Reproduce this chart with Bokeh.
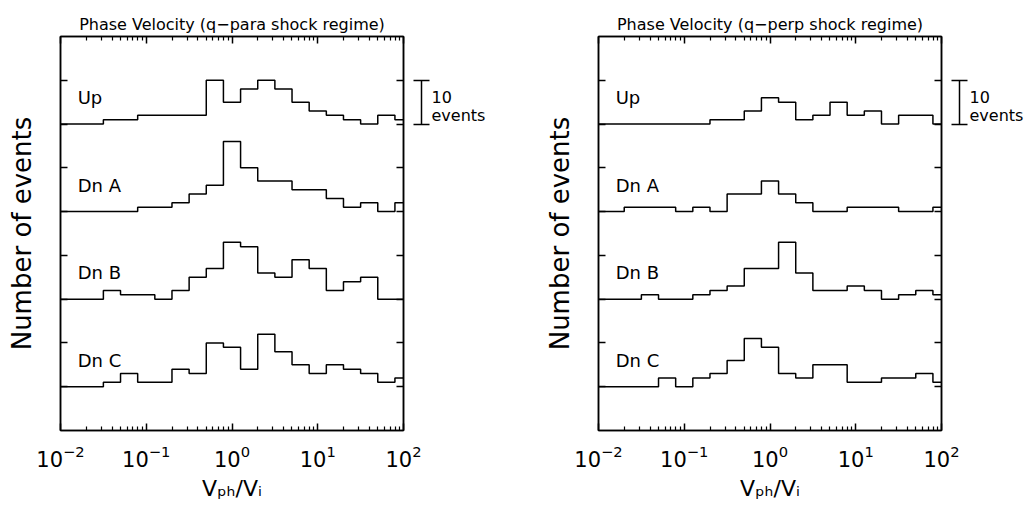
from bokeh.plotting import figure
from bokeh.layouts import row
from bokeh.models import Range1d, LogAxis, LinearAxis, FixedTicker, Label
from bokeh.embed import file_html
from bokeh.resources import INLINE

FONT = "DejaVu Sans"

# histogram bin centres, log10(V_ph/V_i), 0.2 decade wide
log_centres = [-2.0, -1.8, -1.6, -1.4, -1.2, -1.0, -0.8, -0.6, -0.4, -0.2, 0.0,
               0.2, 0.4, 0.6, 0.8, 1.0, 1.2, 1.4, 1.6, 1.8, 2.0]

row_names = ["Up", "Dn A", "Dn B", "Dn C"]
row_offsets = [70, 50, 30, 10]   # vertical stacking of each histogram (events)

# quasi-parallel shock regime: event counts per bin
para_up  = [0, 0, 0, 1, 1, 2, 2, 2, 2, 10, 5, 8, 10, 8, 5, 3, 2, 1, 0, 2, 1]
para_dna = [0, 0, 0, 0, 0, 1, 1, 2, 4, 6, 16, 10, 7, 7, 5, 5, 3, 1, 2, 0, 2]
para_dnb = [0, 0, 0, 2, 1, 1, 0, 2, 5, 7, 13, 12, 6, 5, 9, 7, 2, 4, 5, 0, 0]
para_dnc = [0, 0, 0, 1, 3, 1, 1, 4, 3, 10, 9, 4, 12, 8, 5, 3, 5, 4, 3, 1, 2]

# quasi-perpendicular shock regime: event counts per bin
perp_up  = [0, 0, 0, 0, 0, 0, 0, 1, 1, 3, 6, 5, 1, 2, 5, 2, 3, 0, 2, 2, 0]
perp_dna = [0, 0, 1, 1, 1, 0, 1, 0, 4, 4, 7, 4, 2, 0, 0, 1, 1, 1, 0, 0, 1]
perp_dnb = [0, 0, 0, 1, 0, 0, 1, 2, 3, 7, 7, 13, 6, 2, 2, 3, 2, 0, 1, 2, 1]
perp_dnc = [0, 0, 0, 0, 2, 0, 2, 3, 6, 11, 9, 3, 2, 5, 5, 1, 1, 2, 2, 3, 1]

decades = [0.01, 0.1, 1, 10, 100]
y_ticks = [10, 20, 30, 40, 50, 60, 70, 80]
scale_bar = (70, 80)                       # "10 events" reference bar
scale_text = {76: "10", 72: "events"}      # its two-line caption

minor_x = [m * d for d in decades[:-1] for m in range(2, 10)]


def style_ticks(axis):
    axis.major_tick_in = 7
    axis.major_tick_out = 0
    axis.minor_tick_in = 4
    axis.minor_tick_out = 0
    axis.major_tick_line_color = "black"
    axis.minor_tick_line_color = "black"
    axis.major_tick_line_width = 1.5
    axis.minor_tick_line_width = 1.2
    axis.axis_line_color = "black"
    axis.axis_line_width = 1.5


def hide_labels(axis, standoff=0):
    axis.major_label_text_font_size = "1px"
    axis.major_label_text_alpha = 0
    axis.major_label_standoff = standoff


def make_panel(title, series, border_left, border_right):
    p = figure(x_axis_type="log", x_range=Range1d(1e-2, 1e2), y_range=Range1d(0, 90),
               frame_width=343, frame_height=394,
               min_border_left=border_left, min_border_right=border_right,
               min_border_top=36, min_border_bottom=82,
               output_backend="svg", toolbar_location=None, title=title)
    p.title.align = "center"
    p.title.text_font = FONT
    p.title.text_font_size = "16px"
    p.title.text_font_style = "normal"
    p.title.text_color = "black"
    p.title.standoff = 6
    p.xgrid.visible = False
    p.ygrid.visible = False
    p.outline_line_color = "black"
    p.outline_line_width = 1.5
    p.outline_line_alpha = 1.0
    p.background_fill_color = "white"
    p.border_fill_color = "white"

    # bottom axis: decades with labels, V_ph/V_i title
    x_ticker = FixedTicker(ticks=decades, minor_ticks=minor_x)
    xa = p.xaxis[0]
    xa.ticker = x_ticker
    style_ticks(xa)
    xa.major_label_text_font = FONT
    xa.major_label_text_font_size = "21px"
    xa.major_label_text_color = "black"
    xa.major_label_standoff = 14
    xa.axis_label = "V\u209a\u2095/V\u1d62"
    xa.axis_label_text_font = FONT
    xa.axis_label_text_font_size = "22px"
    xa.axis_label_text_font_style = "normal"
    xa.axis_label_text_color = "black"
    xa.axis_label_standoff = 6

    # mirrored ticks along the top
    top = LogAxis(ticker=x_ticker)
    style_ticks(top)
    hide_labels(top)
    p.add_layout(top, "above")

    # left axis: ticks every 10 events, no numbers
    y_ticker = FixedTicker(ticks=y_ticks, minor_ticks=[])
    ya = p.yaxis[0]
    ya.ticker = y_ticker
    style_ticks(ya)
    hide_labels(ya)
    ya.axis_label = "Number of events"
    ya.axis_label_text_font = FONT
    ya.axis_label_text_font_size = "26px"
    ya.axis_label_text_font_style = "normal"
    ya.axis_label_text_color = "black"
    ya.axis_label_standoff = 24

    # mirrored ticks on the right
    right = LinearAxis(ticker=y_ticker)
    style_ticks(right)
    hide_labels(right)
    p.add_layout(right, "right")

    # empty gap between the frame and the scale bar
    gap = LinearAxis(ticker=FixedTicker(ticks=[45], minor_ticks=[]))
    gap.axis_line_color = None
    gap.major_tick_in = 0
    gap.major_tick_out = 18
    gap.major_tick_line_color = None
    hide_labels(gap)
    p.add_layout(gap, "right")

    # "10 events" scale bar: a bounded axis whose minor ticks form the caps
    bar = LinearAxis(ticker=FixedTicker(ticks=list(scale_text), minor_ticks=list(scale_bar)),
                     bounds=scale_bar)
    bar.axis_line_color = "black"
    bar.axis_line_width = 1.5
    bar.major_tick_in = 0
    bar.major_tick_out = 0
    bar.minor_tick_in = 8
    bar.minor_tick_out = 8
    bar.minor_tick_line_color = "black"
    bar.minor_tick_line_width = 1.5
    bar.major_label_overrides = scale_text
    bar.major_label_text_font = FONT
    bar.major_label_text_font_size = "16px"
    bar.major_label_text_color = "black"
    bar.major_label_standoff = 2
    p.add_layout(bar, "right")

    xs = [10 ** c for c in log_centres]
    for name, off, counts in zip(row_names, row_offsets, series):
        p.step(x=xs, y=[c + off for c in counts], mode="center",
               line_color="black", line_width=1.5)
        p.add_layout(Label(x=10 ** -1.8, y=off + 6.0, text=name,
                           text_font=FONT, text_font_size="18px",
                           text_color="black", text_baseline="alphabetic"))
    return p


left = make_panel("Phase Velocity (q\u2212para shock regime)",
                  [para_up, para_dna, para_dnb, para_dnc], 60, 110)
right = make_panel("Phase Velocity (q\u2212perp shock regime)",
                   [perp_up, perp_dna, perp_dnb, perp_dnc], 85, 86)

layout = row(left, right)
open("out.html", "w").write(file_html(layout, INLINE))
